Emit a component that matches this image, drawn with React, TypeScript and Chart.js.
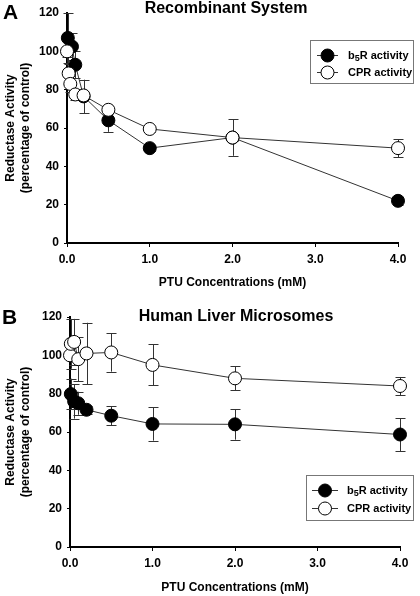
import React, { useEffect, useRef } from 'react';
import { Chart, registerables } from 'chart.js';

Chart.register(...registerables);

const FONT = 'Arial, "Liberation Sans", Helvetica, sans-serif';

// ---------- Panel A: Recombinant System ----------
const aB5rX = [0.01, 0.06, 0.1, 0.2, 0.5, 1, 2, 4];
const aB5rY = [107, 102.5, 93, 76.5, 64, 49.5, 55, 22];
const aB5rErr = [13, 7, 7, 8.7, 6, 1.5, 2, 2];
const aCprX = [0, 0.02, 0.04, 0.1, 0.2, 0.5, 1, 2, 4];
const aCprY = [100, 88.5, 83, 77.5, 77, 69.5, 59.5, 55, 49.5];
const aCprErr = [3, 5, 4, 3, 2, 2, 1.5, 9.5, 4.7];

// ---------- Panel B: Human Liver Microsomes ----------
const bB5rX = [0.01, 0.05, 0.1, 0.2, 0.5, 1, 2, 4];
const bB5rY = [79.8, 76, 75, 71.6, 68.5, 64.2, 64, 58.7];
const bB5rErr = [8, 9, 6, 2, 5, 8.7, 8, 8.6];
const bCprX = [0, 0.01, 0.05, 0.1, 0.2, 0.5, 1, 2, 4];
const bCprY = [100, 106, 107, 98, 101, 101.5, 95, 88, 84];
const bCprErr = [0, 13, 12, 11.5, 16, 10, 10.7, 6.3, 4.7];

const xTicks = [0, 1, 2, 3, 4];
const yTicks = [0, 20, 40, 60, 80, 100, 120];
const seriesNames = ['b5R activity', 'CPR activity'];

const errorBarPlugin = {
  id: 'errorBars',
  beforeDatasetsDraw(chart: any) {
    const { ctx } = chart;
    const ys = chart.scales.y;
    chart.data.datasets.forEach((ds: any, i: number) => {
      const meta = chart.getDatasetMeta(i);
      const errs: number[] = ds.errors || [];
      meta.data.forEach((pt: any, j: number) => {
        const e = errs[j];
        if (!e) return;
        const v = ds.data[j].y;
        const top = ys.getPixelForValue(v + e);
        const bot = ys.getPixelForValue(v - e);
        const x = Math.round(pt.x) + 0.5;
        ctx.save();
        ctx.strokeStyle = '#333';
        ctx.lineWidth = 1;
        ctx.beginPath();
        ctx.moveTo(x, top);
        ctx.lineTo(x, bot);
        ctx.moveTo(x - 5, Math.round(top) + 0.5);
        ctx.lineTo(x + 5, Math.round(top) + 0.5);
        ctx.moveTo(x - 5, Math.round(bot) + 0.5);
        ctx.lineTo(x + 5, Math.round(bot) + 0.5);
        ctx.stroke();
        ctx.restore();
      });
    });
  },
};

type Decor = {
  letter: string;
  letterX: number;
  letterY: number;
  title: string;
  titleX: number;
  titleY: number;
  box: { x: number; y: number; w: number; h: number };
  rows: number[];
  lineX1: number;
  lineX2: number;
  markX: number;
  textX: number;
};

function makeDecorPlugin(d: Decor) {
  return {
    id: 'decor',
    afterDraw(chart: any) {
      const { ctx } = chart;
      ctx.save();
      ctx.fillStyle = '#000';
      ctx.textBaseline = 'middle';
      ctx.textAlign = 'left';
      ctx.font = `bold 21px ${FONT}`;
      ctx.fillText(d.letter, d.letterX, d.letterY);
      ctx.textAlign = 'center';
      ctx.font = `bold 16px ${FONT}`;
      ctx.fillText(d.title, d.titleX, d.titleY);

      // legend box
      ctx.strokeStyle = '#777';
      ctx.lineWidth = 1;
      ctx.strokeRect(d.box.x + 0.5, d.box.y + 0.5, d.box.w, d.box.h);

      d.rows.forEach((ry, i) => {
        const y = ry + 0.5;
        ctx.strokeStyle = '#333';
        ctx.beginPath();
        ctx.moveTo(d.lineX1, y);
        ctx.lineTo(d.lineX2, y);
        ctx.stroke();
        ctx.beginPath();
        ctx.arc(d.markX, y, 6.5, 0, Math.PI * 2);
        ctx.fillStyle = i === 0 ? '#000' : '#fff';
        ctx.fill();
        ctx.strokeStyle = '#000';
        ctx.stroke();
        ctx.fillStyle = '#000';
        ctx.textAlign = 'left';
        ctx.textBaseline = 'middle';
        if (i === 0) {
          ctx.font = `bold 11px ${FONT}`;
          let x = d.textX;
          ctx.fillText('b', x, y);
          x += ctx.measureText('b').width;
          ctx.font = `bold 9px ${FONT}`;
          ctx.fillText('5', x, y + 3);
          x += ctx.measureText('5').width;
          ctx.font = `bold 11px ${FONT}`;
          ctx.fillText('R activity', x, y);
        } else {
          ctx.font = `bold 11px ${FONT}`;
          ctx.fillText(seriesNames[1], d.textX, y);
        }
      });
      ctx.restore();
    },
  };
}

function buildConfig(
  b5rX: number[], b5rY: number[], b5rErr: number[],
  cprX: number[], cprY: number[], cprErr: number[],
  yWidth: number, xHeight: number, padRight: number, xTitleBottom: number,
  decor: Decor
): any {
  const tickFont = { family: FONT, size: 12, weight: 'bold' as const };
  return {
    type: 'scatter',
    data: {
      datasets: [
        {
          label: seriesNames[0],
          data: b5rX.map((x, i) => ({ x, y: b5rY[i] })),
          errors: b5rErr,
          showLine: true,
          borderColor: '#333',
          borderWidth: 1,
          pointRadius: 6.5,
          pointBackgroundColor: '#000',
          pointBorderColor: '#000',
          pointBorderWidth: 1,
          clip: false,
          order: 2,
        },
        {
          label: seriesNames[1],
          data: cprX.map((x, i) => ({ x, y: cprY[i] })),
          errors: cprErr,
          showLine: true,
          borderColor: '#333',
          borderWidth: 1,
          pointRadius: 6.5,
          pointBackgroundColor: '#fff',
          pointBorderColor: '#000',
          pointBorderWidth: 1,
          clip: false,
          order: 1,
        },
      ],
    },
    options: {
      animation: false,
      responsive: false,
      maintainAspectRatio: false,
      events: [],
      layout: { padding: { top: 13, right: padRight, left: 0, bottom: 0 } },
      plugins: { legend: { display: false }, tooltip: { enabled: false }, title: { display: false } },
      scales: {
        x: {
          type: 'linear',
          min: xTicks[0],
          max: xTicks[xTicks.length - 1],
          afterBuildTicks: (s: any) => { s.ticks = xTicks.map((v) => ({ value: v })); },
          ticks: {
            callback: (v: any) => Number(v).toFixed(1),
            font: tickFont,
            color: '#000',
            padding: 5,
            maxRotation: 0,
          },
          grid: { drawOnChartArea: false, drawTicks: true, tickLength: 4, color: '#000', lineWidth: 1 },
          border: { display: true, color: '#000', width: 2 },
          title: {
            display: true,
            text: 'PTU Concentrations (mM)',
            font: { family: FONT, size: 12, weight: 'bold', lineHeight: 1.2 },
            color: '#000',
            padding: { top: 0, bottom: xTitleBottom },
          },
          afterFit: (s: any) => { s.height = xHeight; },
        },
        y: {
          type: 'linear',
          min: yTicks[0],
          max: yTicks[yTicks.length - 1],
          afterBuildTicks: (s: any) => { s.ticks = yTicks.map((v) => ({ value: v })); },
          ticks: { font: tickFont, color: '#000', padding: 5 },
          grid: { drawOnChartArea: false, drawTicks: true, tickLength: 3, color: '#000', lineWidth: 1 },
          border: { display: true, color: '#000', width: 2 },
          title: {
            display: true,
            text: ['Reductase Activity', '(percentage of control)'],
            font: { family: FONT, size: 12, weight: 'bold', lineHeight: 1.25 },
            color: '#000',
            padding: { top: 3, bottom: 0 },
          },
          afterFit: (s: any) => { s.width = yWidth; },
        },
      },
    },
    plugins: [errorBarPlugin, makeDecorPlugin(decor)],
  };
}

function Panel({ config, height }: { config: any; height: number }) {
  const ref = useRef<HTMLCanvasElement | null>(null);
  useEffect(() => {
    if (!ref.current) return;
    const chart = new Chart(ref.current, config);
    return () => chart.destroy();
  }, [config]);
  return <canvas ref={ref} width={420} height={height} style={{ display: 'block', width: 420, height }} />;
}

const configA = buildConfig(
  aB5rX, aB5rY, aB5rErr, aCprX, aCprY, aCprErr,
  67, 61, 22, 14,
  {
    letter: 'A', letterX: 3, letterY: 13,
    title: 'Recombinant System', titleX: 226, titleY: 9,
    box: { x: 310, y: 40, w: 103, h: 43 },
    rows: [55, 72], lineX1: 317, lineX2: 338, markX: 327.5, textX: 348,
  }
);

const configB = buildConfig(
  bB5rX, bB5rY, bB5rErr, bCprX, bCprY, bCprErr,
  70, 49, 20, 1,
  {
    letter: 'B', letterX: 2, letterY: 14,
    title: 'Human Liver Microsomes', titleX: 236, titleY: 12.5,
    box: { x: 306, y: 171, w: 107, h: 45 },
    rows: [186, 204], lineX1: 312, lineX2: 338, markX: 325, textX: 347,
  }
);

export default function App() {
  return (
    <div style={{ position: 'absolute', left: 0, top: 0, width: 420, height: 596, background: '#fff' }}>
      <Panel config={configA} height={304} />
      <Panel config={configB} height={292} />
    </div>
  );
}
